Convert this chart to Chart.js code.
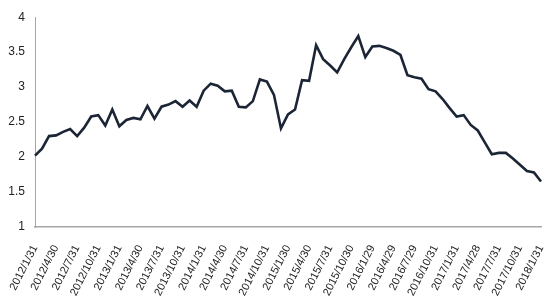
<!DOCTYPE html>
<html>
<head>
<meta charset="utf-8">
<script src="https://cdn.jsdelivr.net/npm/chart.js@4.4.1/dist/chart.umd.min.js"></script>
<style>
  html,body{margin:0;padding:0;background:#fff;}
  #wrap{width:550px;height:300px;position:relative;}
</style>
</head>
<body>
<div id="wrap"><canvas id="c"></canvas></div>
<script>
// 月末日期（每季标注一次）
const dates = [
  '2012/1/31','2012/2/29','2012/3/30','2012/4/30','2012/5/31','2012/6/29','2012/7/31','2012/8/31','2012/9/28','2012/10/31','2012/11/30','2012/12/31',
  '2013/1/31','2013/2/28','2013/3/29','2013/4/30','2013/5/31','2013/6/28','2013/7/31','2013/8/30','2013/9/30','2013/10/31','2013/11/29','2013/12/31',
  '2014/1/31','2014/2/28','2014/3/31','2014/4/30','2014/5/30','2014/6/30','2014/7/31','2014/8/29','2014/9/30','2014/10/31','2014/11/28','2014/12/31',
  '2015/1/30','2015/2/27','2015/3/31','2015/4/30','2015/5/29','2015/6/30','2015/7/31','2015/8/31','2015/9/30','2015/10/30','2015/11/30','2015/12/31',
  '2016/1/29','2016/2/29','2016/3/31','2016/4/29','2016/5/31','2016/6/30','2016/7/29','2016/8/31','2016/9/30','2016/10/31','2016/11/30','2016/12/30',
  '2017/1/31','2017/2/28','2017/3/31','2017/4/28','2017/5/31','2017/6/30','2017/7/31','2017/8/31','2017/9/29','2017/10/31','2017/11/30','2017/12/29',
  '2018/1/31'
];
const values = [
  2.02,2.12,2.30,2.31,2.36,2.40,2.30,2.42,2.58,2.60,2.45,2.68,
  2.44,2.53,2.56,2.54,2.73,2.55,2.72,2.75,2.80,2.72,2.81,2.72,
  2.95,3.05,3.02,2.94,2.95,2.72,2.71,2.80,3.11,3.08,2.89,2.41,
  2.61,2.68,3.10,3.09,3.60,3.40,3.31,3.21,3.40,3.57,3.73,3.43,
  3.58,3.59,3.56,3.52,3.46,3.17,3.14,3.12,2.97,2.94,2.83,2.70,
  2.58,2.60,2.46,2.38,2.21,2.04,2.06,2.06,1.98,1.89,1.80,1.78,
  1.65
];
const yMin = 1, yMax = 4, yStep = 0.5;
const labelEvery = 3;

const font = "'Liberation Sans',Arial,sans-serif";

new Chart(document.getElementById('c'), {
  type: 'line',
  data: {
    labels: dates,
    datasets: [{
      data: values,
      borderColor: '#1b2535',
      borderWidth: 2.6,
      pointRadius: 0,
      tension: 0,
      fill: false
    }]
  },
  options: {
    responsive: true,
    maintainAspectRatio: false,
    animation: false,
    layout: { padding: { left: 0, right: 9, top: 16, bottom: 3 } },
    plugins: { legend: { display: false }, tooltip: { enabled: false } },
    scales: {
      x: {
        grid: { display: false, drawTicks: false },
        border: { display: true, color: '#a6a6a6', width: 1.5 },
        // 固定轴高，去掉旋转标签带来的额外左右留白
        afterFit: function(s){ s.height = 70; s.paddingLeft = 0; s.paddingRight = 0; },
        ticks: {
          autoSkip: false,
          minRotation: 63,
          maxRotation: 63,
          padding: 16,
          color: '#222',
          font: { family: font, size: 11 },
          callback: function(v, i){ return i % labelEvery === 0 ? dates[i] : null; }
        }
      },
      y: {
        min: yMin, max: yMax,
        grid: { display: false, drawTicks: false },
        border: { display: true, color: '#a6a6a6', width: 1 },
        afterFit: function(s){ s.width = 35; },
        ticks: {
          stepSize: yStep,
          padding: 10,
          color: '#222',
          font: { family: font, size: 12 },
          callback: function(v){ return String(v); }
        }
      }
    }
  }
});
</script>
</body>
</html>
